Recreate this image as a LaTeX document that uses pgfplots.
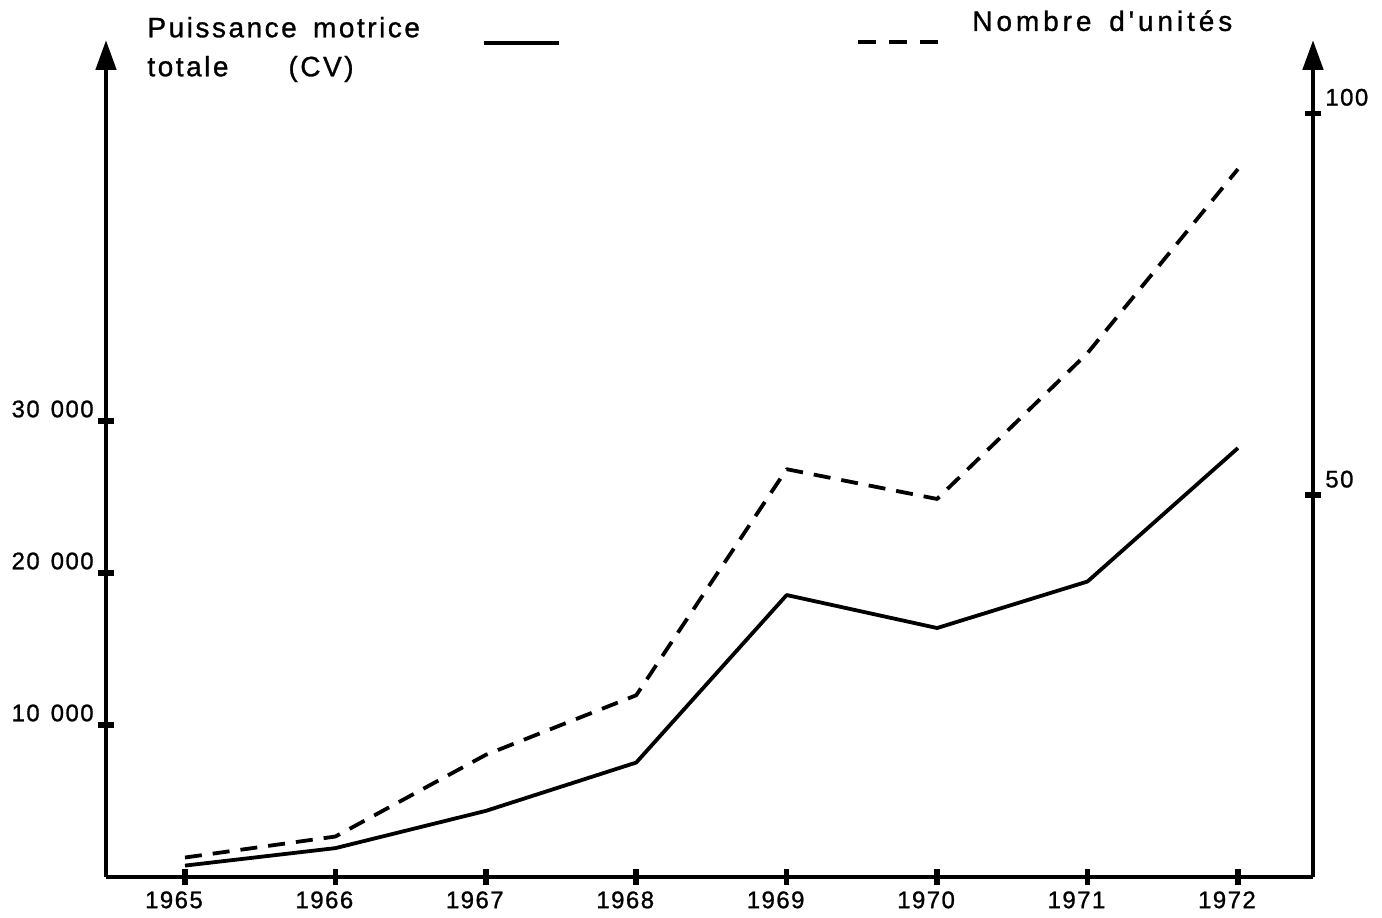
\documentclass[border=0pt]{standalone}
\usepackage{fontspec}
\setmainfont{Liberation Sans}
\newfontfamily\legfont{Liberation Sans}[LetterSpace=9, FakeBold=1]
\newfontfamily\legfontb{Liberation Sans}[LetterSpace=14, FakeBold=1]
\newfontfamily\tickfont{Liberation Sans}[LetterSpace=6, FakeBold=1]
\usepackage{pgfplots}
\usepackage{pgfplotstable}
\pgfplotsset{compat=1.18}
\usetikzlibrary{arrows.meta}

\pgfplotstableread{
year power
1965 750
1966 1900
1967 4350
1968 7530
1969 18550
1970 16380
1971 19440
1972 28220
}\powertable

\pgfplotstableread{
year units
1965 2.55
1966 5.3
1967 16.0
1968 23.8
1969 53.4
1970 49.5
1971 68.6
1972 92.7
}\unitstable

\pgfplotsset{
  solidleg/.style={legend image code/.code={\draw[##1] (0pt,2.5pt) -- (37.5pt,2.5pt);}},
  dashleg/.style={legend image code/.code={\draw[##1] (0pt,-10pt) -- (40pt,-10pt);}},
  common/.style={
    scale only axis, width=603.5pt, height=418.5pt,
    xmin=1964.475, xmax=1972.499, ymin=0,
    scaled y ticks=false, scaled x ticks=false,
    tick align=center,
    major tick length=8pt,
    every tick/.style={black, line width=2.8pt},
    axis line style={line width=2.4pt},
    ticklabel style={font=\tickfont\fontsize{12}{14}\selectfont, inner sep=0pt},
    legend style={draw=none, fill=none, inner sep=0pt,
      font=\legfont\fontsize{14}{19.5}\selectfont,
      nodes={inner sep=0pt}, cells={align=left}},
  }
}

\begin{document}
\begin{tikzpicture}
\begin{axis}[common,
  ymax=55066,
  axis x line=bottom, axis y line=left,
  x axis line style={-},
  y axis line style={-{Triangle[length=15pt,width=10pt]}},
  xtick={1965,1966,1967,1968,1969,1970,1971,1972},
  xticklabels={1965,1966,1967,1968,1969,1970,1971,1972},
  xticklabel style={anchor=north, yshift=-3pt, xshift=-5.5pt},
  ytick={10000,20000,30000},
  yticklabels={10\hspace*{5.5pt}000,20\hspace*{5.5pt}000,30\hspace*{5.5pt}000},
  yticklabel style={anchor=east, xshift=-2pt, yshift=6pt},
  legend plot pos=right,
  legend style={at={(axis description cs:0.034,1.028)}, anchor=north west, column sep=31pt},
]
\addlegendimage{black, line width=1.9pt, solidleg}
\addlegendentry{Puissance\hspace{3pt} motrice\\totale\hspace{30pt}(CV)}
\addplot[black, line width=1.9pt, line join=round, forget plot] table[x=year, y=power] {\powertable};
\end{axis}
\begin{axis}[common,
  ymax=109.6,
  axis x line=none, axis y line=right,
  y axis line style={-{Triangle[length=15pt,width=10pt]}},
  ytick={50,100},
  yticklabels={50,100},
  yticklabel style={anchor=west, xshift=2pt, yshift=8pt},
  legend plot pos=left,
  legend style={at={(axis description cs:0.6215,1.036)}, anchor=north west, column sep=16pt},
]
\addlegendimage{black, line width=1.9pt, dash pattern=on 9pt off 6.5pt, dashleg}
\addlegendentry{\legfontb Nombre\hspace{3pt} d'unités}
\addplot[black, line width=1.9pt, line join=round, dash pattern=on 8.5pt off 5.5pt, forget plot] table[x=year, y=units] {\unitstable};
\end{axis}
\path (-53pt,-20pt) rectangle (638pt,438.5pt);
\end{tikzpicture}
\end{document}
